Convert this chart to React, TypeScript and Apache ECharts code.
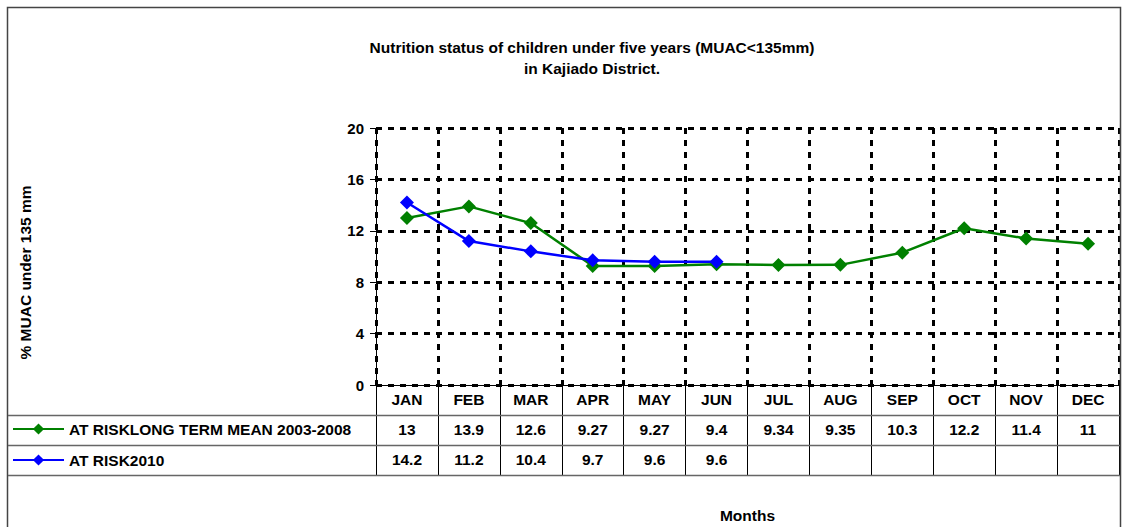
import React, { useEffect, useRef } from 'react';
import * as echarts from 'echarts';

const months = ['JAN', 'FEB', 'MAR', 'APR', 'MAY', 'JUN', 'JUL', 'AUG', 'SEP', 'OCT', 'NOV', 'DEC'];
const longTermMean: (number | null)[] = [13, 13.9, 12.6, 9.27, 9.27, 9.4, 9.34, 9.35, 10.3, 12.2, 11.4, 11];
const risk2010: (number | null)[] = [14.2, 11.2, 10.4, 9.7, 9.6, 9.6, null, null, null, null, null, null];
const seriesNames = ['AT RISKLONG TERM MEAN 2003-2008', 'AT RISK2010'];
const seriesColors = ['#008000', '#0000FF'];
const yMin = 0;
const yMax = 20;
const yInterval = 4;
const titleText = 'Nutrition status of children under five years (MUAC<135mm)\nin Kajiado District.';
const yAxisTitle = '% MUAC under 135 mm';
const xAxisTitle = 'Months';

const FONT = 'Arial, "Liberation Sans", sans-serif';

export default function App() {
  const ref = useRef<HTMLDivElement>(null);
  useEffect(() => {
    if (!ref.current) return;
    const chart = echarts.init(ref.current, undefined, { renderer: 'svg' });
    const bold = { fontFamily: FONT, fontWeight: 'bold' as const, fontSize: 15.5, color: '#000' };
    const dash = { color: '#000', width: 3, type: [6, 6] as number[] };
    const tableLine = { stroke: '#666', lineWidth: 1.5 };
    const fmt = (arr: (number | null)[]) => (_v: string, i: number) => (arr[i] == null ? '' : String(arr[i]));
    chart.setOption({
      animation: false,
      backgroundColor: '#fff',
      title: {
        text: titleText,
        left: 592,
        top: 36.5,
        padding: 0,
        textAlign: 'center',
        textStyle: { ...bold, lineHeight: 21 },
      },
      legend: {
        orient: 'vertical',
        left: 12,
        top: 421,
        padding: 0,
        itemWidth: 51,
        itemHeight: 14,
        itemGap: 15,
        textStyle: { ...bold },
        data: seriesNames,
      },
      grid: { left: 376, right: 9, top: 128, bottom: 142, containLabel: false },
      xAxis: [
        {
          type: 'category',
          data: months,
          boundaryGap: true,
          name: xAxisTitle,
          nameLocation: 'middle',
          nameGap: 122,
          nameTextStyle: { ...bold },
          axisLine: { show: true, lineStyle: { color: '#000', width: 1 } },
          axisTick: { show: true, length: 90, interval: 0, lineStyle: { color: '#000', width: 1 } },
          axisLabel: { interval: 0, margin: 6, ...bold },
          splitLine: { show: true, interval: 0, lineStyle: dash },
        },
        {
          type: 'category',
          data: months,
          position: 'bottom',
          offset: 30,
          axisLine: { show: false },
          axisTick: { show: false },
          splitLine: { show: false },
          axisLabel: { interval: 0, margin: 6, ...bold, formatter: fmt(longTermMean) },
        },
        {
          type: 'category',
          data: months,
          position: 'bottom',
          offset: 60,
          axisLine: { show: false },
          axisTick: { show: false },
          splitLine: { show: false },
          axisLabel: { interval: 0, margin: 6, ...bold, formatter: fmt(risk2010) },
        },
      ],
      yAxis: {
        type: 'value',
        min: yMin,
        max: yMax,
        interval: yInterval,
        name: yAxisTitle,
        nameLocation: 'middle',
        nameRotate: 90,
        nameGap: 343,
        nameTextStyle: { ...bold, padding: [0, 32, 0, 0] },
        axisLine: { show: true, lineStyle: { color: '#000', width: 1 } },
        axisTick: { show: true, length: 6, lineStyle: { color: '#000', width: 1 } },
        axisLabel: { ...bold, fontSize: 15, margin: 12 },
        splitLine: { show: true, lineStyle: dash },
      },
      graphic: [
        {
          type: 'rect',
          shape: { x: 7.5, y: 7.5, width: 1113, height: 540 },
          style: { fill: 'none', stroke: '#444', lineWidth: 1.5 },
          z: 100,
        },
        { type: 'line', shape: { x1: 8, y1: 415.5, x2: 1120, y2: 415.5 }, style: tableLine, z: 100 },
        { type: 'line', shape: { x1: 8, y1: 445.5, x2: 1120, y2: 445.5 }, style: tableLine, z: 100 },
        { type: 'line', shape: { x1: 8, y1: 475.5, x2: 1120, y2: 475.5 }, style: tableLine, z: 100 },
      ],
      series: [
        {
          name: seriesNames[0],
          type: 'line',
          data: longTermMean,
          color: seriesColors[0],
          symbol: 'diamond',
          symbolSize: 14,
          lineStyle: { width: 2.5, color: seriesColors[0] },
          itemStyle: { color: seriesColors[0] },
          z: 3,
        },
        {
          name: seriesNames[1],
          type: 'line',
          data: risk2010,
          color: seriesColors[1],
          symbol: 'diamond',
          symbolSize: 14,
          connectNulls: false,
          lineStyle: { width: 2.5, color: seriesColors[1] },
          itemStyle: { color: seriesColors[1] },
          z: 4,
        },
      ],
    });
    return () => chart.dispose();
  }, []);
  return <div ref={ref} style={{ position: 'fixed', left: 0, top: 0, width: 1128, height: 527 }} />;
}
